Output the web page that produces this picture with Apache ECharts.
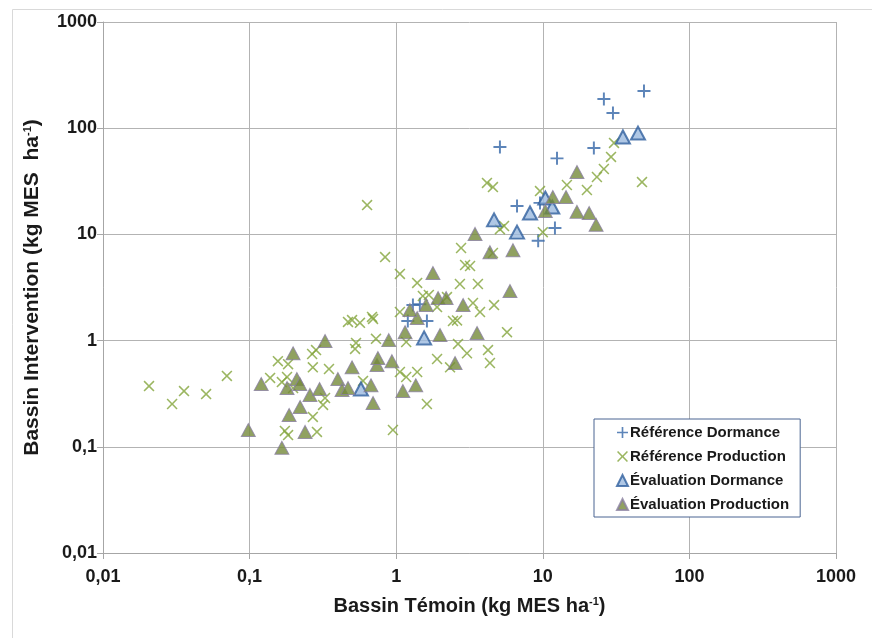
<!DOCTYPE html>
<html>
<head>
<meta charset="utf-8">
<script src="https://cdn.jsdelivr.net/npm/echarts@6/dist/echarts.min.js"></script>
<style>
  html, body { margin: 0; padding: 0; background: #ffffff; }
  #chart { width: 872px; height: 638px; }
</style>
</head>
<body>
<div id="chart"></div>
<script>
// Decade tick labels (French decimal comma)
const tickLabels = ['0,01', '0,1', '1', '10', '100', '1000'];

// Series names
const seriesNames = ['Référence Dormance', 'Référence Production', 'Évaluation Dormance', 'Évaluation Production'];

// [Bassin Témoin, Bassin Intervention] in kg MES ha-1
const refDormance = [
  [26.1, 188], [49, 224], [30.1, 139], [22.3, 65], [12.5, 52], [5.1, 66.5],
  [6.67, 18.5], [12.1, 11.5], [9.3, 8.7], [9.57, 19.8],
  [1.30, 2.16], [1.45, 2.2], [1.20, 1.53], [1.62, 1.53]
];

const refProduction = [
  [0.0206, 0.373], [0.0296, 0.253], [0.0357, 0.335], [0.0505, 0.314], [0.070, 0.465],
  [0.138, 0.445], [0.156, 0.64], [0.166, 0.407], [0.18, 0.454], [0.183, 0.60],
  [0.198, 0.358], [0.174, 0.141], [0.183, 0.129], [0.27, 0.191], [0.288, 0.138],
  [0.267, 0.748], [0.284, 0.815], [0.27, 0.56], [0.348, 0.54], [0.327, 0.288],
  [0.317, 0.248], [0.469, 1.50], [0.50, 1.56], [0.566, 1.47], [0.684, 1.67],
  [0.695, 1.60], [0.532, 0.95], [0.524, 0.834], [0.728, 1.04], [0.594, 0.417],
  [0.84, 6.12], [0.633, 18.9], [0.95, 0.144], [1.06, 0.506], [1.17, 0.454],
  [1.39, 0.506], [1.06, 1.86], [1.06, 4.24], [1.17, 0.97], [1.39, 3.49],
  [1.52, 2.63], [1.67, 2.69], [1.62, 0.253], [1.90, 0.671], [2.33, 0.56],
  [1.90, 2.07], [2.22, 2.57], [2.44, 1.53], [2.60, 1.55], [2.64, 0.93],
  [3.04, 0.76], [4.23, 0.815], [4.36, 0.615], [2.72, 3.41], [3.61, 3.41],
  [2.77, 7.45], [2.95, 5.15], [3.19, 5.04], [3.34, 2.26], [3.73, 1.86],
  [4.65, 2.16], [4.57, 6.68], [4.16, 30.5], [4.57, 27.9], [5.1, 11.2],
  [5.44, 12.0], [5.70, 1.2], [9.57, 25.6], [10.0, 10.5], [14.6, 29.2],
  [20.0, 26.2], [23.4, 34.7], [26.1, 41.3], [29.2, 53.6], [30.6, 72.6],
  [47.5, 31.1]
];

const evalDormance = [
  [0.575, 0.35], [1.55, 1.06], [4.65, 13.7], [6.67, 10.5], [8.18, 15.9],
  [10.4, 22], [11.6, 18.1], [35.2, 82.6], [44.6, 90]
];

const evalProduction = [
  [0.098, 0.144], [0.166, 0.098], [0.12, 0.39], [0.198, 0.76], [0.21, 0.435],
  [0.22, 0.39], [0.18, 0.358], [0.258, 0.308], [0.30, 0.35], [0.221, 0.237],
  [0.186, 0.199], [0.239, 0.138], [0.327, 0.99], [0.40, 0.435], [0.427, 0.343],
  [0.469, 0.358], [0.50, 0.56], [0.74, 0.59], [0.75, 0.685], [0.935, 0.64],
  [0.673, 0.38], [0.695, 0.258], [1.11, 0.335], [1.36, 0.38], [0.89, 1.01],
  [1.15, 1.2], [1.39, 1.63], [1.24, 1.94], [1.60, 2.16], [1.78, 4.33],
  [1.93, 2.52], [2.19, 2.52], [2.86, 2.16], [1.99, 1.13], [3.56, 1.18],
  [2.52, 0.615], [3.45, 10.1], [4.36, 6.8], [6.26, 7.1], [5.97, 2.93],
  [10.4, 16.6], [11.7, 22.5], [14.4, 22.5], [17.1, 38.7], [17.1, 16.3],
  [20.7, 15.9], [23.1, 12.3]
];

const plusPath = 'path://M5.1,0H6.9V5.1H12V6.9H6.9V12H5.1V6.9H0V5.1H5.1Z';
const crossPath = 'path://M0,1.2L1.2,0L6,4.8L10.8,0L12,1.2L7.2,6L12,10.8L10.8,12L6,7.2L1.2,12L0,10.8L4.8,6Z';

function decadeLabel(v) {
  const i = Math.round(Math.log10(v)) + 2;
  return tickLabels[i] !== undefined ? tickLabels[i] : '';
}

const fontFamily = 'Liberation Sans, Arial, sans-serif';
const tickFont = { fontFamily: fontFamily, fontWeight: 'bold', fontSize: 18, color: '#1a1a1a' };
function titleFont(size) {
  return {
    fontFamily: fontFamily, fontWeight: 'bold', fontSize: size, color: '#1a1a1a',
    rich: { sup: { fontFamily: fontFamily, fontWeight: 'bold', fontSize: 11, color: '#1a1a1a', verticalAlign: 'top', padding: [0, 0, 9, 0] } }
  };
}

const chart = echarts.init(document.getElementById('chart'), null, { renderer: 'canvas' });
chart.setOption({
  backgroundColor: '#ffffff',
  animation: false,
  graphic: [{
    type: 'rect', left: 10, top: 7, z: -10,
    shape: { x: 0, y: 0, width: 900, height: 700 },
    style: { fill: 'none', stroke: '#d9d9d9', lineWidth: 1 }
  }],
  grid: { left: 103, right: 36, top: 22, bottom: 85 },
  legend: {
    orient: 'vertical',
    left: 594, top: 419,
    padding: [6, 11, 5, 22],
    itemGap: 9,
    itemWidth: 11, itemHeight: 11,
    backgroundColor: '#ffffff',
    borderColor: '#4a6592', borderWidth: 1,
    textStyle: { fontFamily: fontFamily, fontWeight: 'bold', fontSize: 15, color: '#1a1a1a', padding: [0, 0, 0, -3] },
    data: seriesNames
  },
  xAxis: {
    type: 'log', logBase: 10, min: 0.01, max: 1000,
    name: 'Bassin Témoin (kg MES ha{sup|-1})',
    nameLocation: 'middle', nameGap: 43,
    nameTextStyle: titleFont(20),
    axisLine: { show: true, lineStyle: { color: '#a6a6a6' } },
    axisTick: { show: true, length: 6, lineStyle: { color: '#a6a6a6' } },
    axisLabel: Object.assign({ margin: 15, formatter: decadeLabel }, tickFont),
    splitLine: { show: true, lineStyle: { color: '#b3b3b3', width: 1 } }
  },
  yAxis: {
    type: 'log', logBase: 10, min: 0.01, max: 1000,
    name: 'Bassin Intervention (kg MES  ha{sup|-1})',
    nameLocation: 'middle', nameGap: 60, nameRotate: 90,
    nameTextStyle: titleFont(21),
    axisLine: { show: true, lineStyle: { color: '#a6a6a6' } },
    axisTick: { show: true, length: 6, lineStyle: { color: '#a6a6a6' } },
    axisLabel: Object.assign({ margin: 6, formatter: decadeLabel }, tickFont),
    splitLine: { show: true, lineStyle: { color: '#b3b3b3', width: 1 } }
  },
  series: [
    {
      name: seriesNames[0], type: 'scatter', data: refDormance, z: 2,
      symbol: plusPath, symbolSize: 13,
      itemStyle: { color: '#3566a8' }
    },
    {
      name: seriesNames[1], type: 'scatter', data: refProduction, z: 3,
      symbol: crossPath, symbolSize: 11,
      itemStyle: { color: '#82a43a' }
    },
    {
      name: seriesNames[2], type: 'scatter', data: evalDormance, z: 4,
      symbol: 'triangle', symbolSize: [14, 13],
      itemStyle: { color: '#9bb9df', borderColor: '#2f5f9e', borderWidth: 2 }
    },
    {
      name: seriesNames[3], type: 'scatter', data: evalProduction, z: 5,
      symbol: 'triangle', symbolSize: [14, 13],
      itemStyle: { color: '#74893a', borderColor: '#8a7fa0', borderWidth: 1 }
    }
  ]
});
</script>
</body>
</html>
